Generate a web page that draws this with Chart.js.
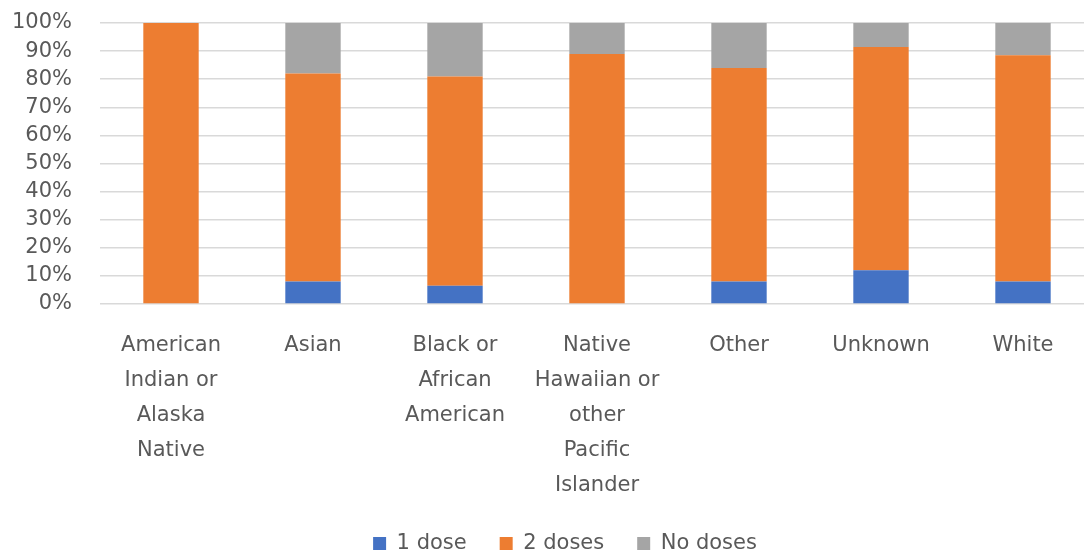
<!DOCTYPE html>
<html>
<head>
<meta charset="utf-8">
<script src="https://cdn.jsdelivr.net/npm/chart.js@4"></script>
<style>
  html, body { margin: 0; padding: 0; background: #fff; overflow: hidden; }
  #wrap { width: 1134px; height: 556px; position: relative; }
</style>
</head>
<body>
<div id="wrap"><canvas id="doseChart"></canvas></div>
<script>
const categories = [
  ["American", "Indian or", "Alaska", "Native"],
  ["Asian"],
  ["Black or", "African", "American"],
  ["Native", "Hawaiian or", "other", "Pacific", "Islander"],
  ["Other"],
  ["Unknown"],
  ["White"],
];
const oneDose = [0, 8, 6.5, 0, 8, 12, 8];
const twoDoses = [100, 74, 74.5, 89, 76, 79.5, 80.5];
const noDoses = [0, 18, 19, 11, 16, 8.5, 11.5];
const yTicks = [0, 10, 20, 30, 40, 50, 60, 70, 80, 90, 100];

const textColor = "#595959";
const font = { family: "DejaVu Sans", size: 21 };

const ctx = document.getElementById("doseChart");

// nudge the legend a bit right, like the original sheet
const shiftLegend = {
  id: "shiftLegend",
  afterLayout(chart) {
    chart.legend.left += 18;
    chart.legend.right += 18;
  },
};

new Chart(ctx, {
  type: "bar",
  data: {
    labels: categories,
    datasets: [
      { label: "1 dose", data: oneDose, backgroundColor: "#4472C4" },
      { label: "2 doses", data: twoDoses, backgroundColor: "#ED7D31" },
      { label: "No doses", data: noDoses, backgroundColor: "#A5A5A5" },
    ],
  },
  plugins: [shiftLegend],
  options: {
    responsive: true,
    maintainAspectRatio: false,
    animation: false,
    layout: {
      padding: { top: 23, left: 0, right: 40, bottom: -8 },
    },
    datasets: {
      bar: {
        barPercentage: 0.39,
        categoryPercentage: 1,
      },
    },
    plugins: {
      legend: {
        position: "bottom",
        labels: {
          color: textColor,
          font: font,
          boxWidth: 13,
          boxHeight: 13,
          padding: 33,
        },
      },
      tooltip: { enabled: false },
    },
    scales: {
      x: {
        stacked: true,
        grid: { display: false, drawTicks: false },
        border: { display: false },
        ticks: {
          color: textColor,
          font: { family: "DejaVu Sans", size: 21, lineHeight: 1.67 },
          padding: 24,
          maxRotation: 0,
          autoSkip: false,
        },
        afterFit: (scale) => {
          scale.height = 196;
        },
      },
      y: {
        stacked: true,
        min: 0,
        max: 100,
        afterBuildTicks: (scale) => {
          scale.ticks = yTicks.map((v) => ({ value: v }));
        },
        grid: { color: "#D9D9D9", lineWidth: 1.5, drawTicks: false },
        border: { display: false },
        ticks: {
          color: textColor,
          font: font,
          padding: 28,
          autoSkip: false,
          callback: (v) => v + "%",
        },
        afterFit: (scale) => {
          scale.width = 100;
          scale.paddingTop = 0;
        },
      },
    },
  },
});
</script>
</body>
</html>
